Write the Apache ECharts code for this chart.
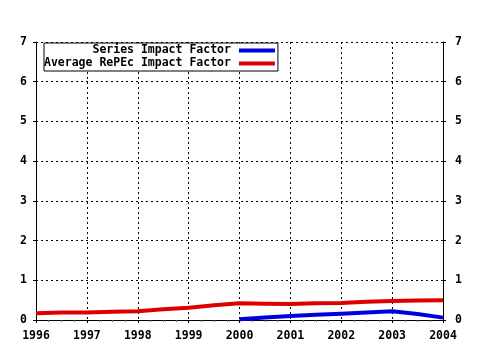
<!DOCTYPE html>
<html><head><meta charset="utf-8">
<script src="https://cdn.jsdelivr.net/npm/echarts@6/dist/echarts.min.js"></script>
<style>html,body{margin:0;padding:0;background:#fff}#c{width:480px;height:350px}</style>
</head><body><div id="c"></div>
<script>
var years = [1996, 1997, 1998, 1999, 2000, 2001, 2002, 2003, 2004];
var yTicks = [0, 1, 2, 3, 4, 5, 6, 7];
var seriesNames = ["Series Impact Factor", "Average RePEc Impact Factor"];
var redX = [1996, 1996.5, 1997, 1997.5, 1998, 1998.5, 1999, 1999.5, 2000, 2000.5, 2001, 2001.5, 2002, 2002.5, 2003, 2003.5, 2004];
var redY = [0.17, 0.19, 0.19, 0.21, 0.22, 0.27, 0.31, 0.37, 0.42, 0.41, 0.40, 0.42, 0.43, 0.46, 0.48, 0.49, 0.50];
var blueX = [2000, 2000.5, 2001, 2001.5, 2002, 2002.5, 2003, 2003.5, 2004];
var blueY = [0.02, 0.06, 0.10, 0.13, 0.16, 0.19, 0.22, 0.15, 0.06];

function pairs(xs, ys){ return xs.map(function(x,i){return [x, ys[i]];}); }
var font = "'DejaVu Sans Mono', monospace";
var lblStyle = {color:'#000', fontFamily:font, fontWeight:'bold', fontSize:11.5};
var chart = echarts.init(document.getElementById('c'), null, {renderer:'canvas'});
var xBase = {type:'value', min:years[0], max:years[years.length-1], interval:1,
  axisLine:{show:true, lineStyle:{color:'#000', width:1}},
  minorTick:{show:true, splitNumber:4, length:2, lineStyle:{color:'#666'}}};
var yBase = {type:'value', min:yTicks[0], max:yTicks[yTicks.length-1], interval:1,
  axisLine:{show:true, lineStyle:{color:'#000', width:1}},
  axisTick:{show:true, length:3, lineStyle:{color:'#000'}}};
chart.setOption({
  animation:false,
  backgroundColor:'#fff',
  grid:{left:36, right:37, top:42, bottom:30},
  legend:{
    orient:'vertical', left:44, top:43, align:'right',
    data:seriesNames, backgroundColor:'#fff',
    borderColor:'#000', borderWidth:1, padding:[1,3,1,0],
    itemGap:0, itemWidth:36, itemHeight:4, icon:'rect',
    textStyle:{color:'#000', fontFamily:font, fontWeight:'bold', fontSize:11.5, lineHeight:13, padding:[0,3,0,0]},
    formatter:function(n){ var w = 27; var s = n; while(s.length < w) s = ' ' + s; return s; }
  },
  xAxis:[
    Object.assign({}, xBase, {position:'bottom',
      axisTick:{show:true, length:3, lineStyle:{color:'#000'}},
      axisLabel:Object.assign({margin:10, formatter:function(v){return String(v);}}, lblStyle),
      splitLine:{show:true, lineStyle:{color:'#000', type:[2,3], width:1}}}),
    Object.assign({}, xBase, {position:'top',
      axisTick:{show:true, inside:true, length:3, lineStyle:{color:'#000'}},
      minorTick:{show:true, splitNumber:4, length:2, lineStyle:{color:'#666'}},
      axisLabel:{show:false}, splitLine:{show:false}})
  ],
  yAxis:[
    Object.assign({}, yBase, {position:'left',
      axisLabel:Object.assign({margin:9}, lblStyle),
      splitLine:{show:true, lineStyle:{color:'#000', type:[2,3], width:1}}}),
    Object.assign({}, yBase, {position:'right',
      axisLabel:Object.assign({margin:12}, lblStyle),
      splitLine:{show:false}})
  ],
  series:[
    {name:seriesNames[0], type:'line', data:pairs(blueX, blueY), symbol:'none',
      color:'#0000dd', lineStyle:{color:'#0000dd', width:4}},
    {name:seriesNames[1], type:'line', data:pairs(redX, redY), symbol:'none',
      color:'#dd0000', lineStyle:{color:'#dd0000', width:4}}
  ]
});
</script></body></html>
